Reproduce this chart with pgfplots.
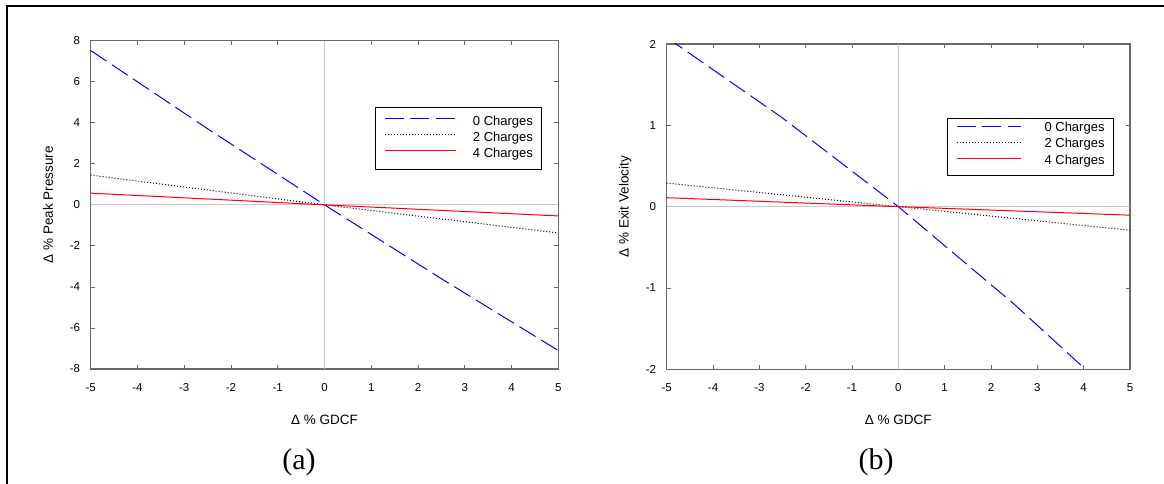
\documentclass[border=0pt]{standalone}
\usepackage{fontspec}
\setmainfont{Liberation Sans}
\newfontfamily\capfont{Liberation Serif}
\usepackage{pgfplots}
\pgfplotsset{compat=1.18}
\definecolor{axgray}{RGB}{105,105,105}
\definecolor{zerogray}{RGB}{200,200,200}
\definecolor{blueline}{RGB}{0,0,255}
\definecolor{redline}{RGB}{255,0,0}

\pgfplotsset{
  gdcf/.style={
    scale only axis,
    anchor=south west,
    xmin=-5, xmax=5,
    xtick={-5,-4,-3,-2,-1,0,1,2,3,4,5},
    axis line style={draw=axgray, line width=1.3pt},
    tick style={draw=axgray, line width=0.8pt},
    tick align=inside,
    major tick length=4pt,
    /pgf/number format/assume math mode=true,
    tick label style={font=\fontsize{11.5}{13}\selectfont, inner sep=0pt},
    xticklabel style={anchor=north, yshift=-14pt},
    yticklabel style={anchor=east, xshift=-10.5pt},
    label style={font=\fontsize{13.5}{15}\selectfont},
    xlabel={Δ \% GDCF},
    extra x ticks={0}, extra y ticks={0},
    extra x tick labels={}, extra y tick labels={},
    extra tick style={grid=major, major tick length=0pt,
      major grid style={draw=zerogray, line width=1pt}},
    legend cell align=left,
    legend style={draw=black, line width=1pt,
      font=\fontsize{13}{15}\selectfont,
      inner xsep=9pt},
  },
  nocharge/.style={draw=blueline, line width=1pt, dash pattern=on 19pt off 6.5pt},
  twocharge/.style={draw=black, line width=1pt, dash pattern=on 1pt off 2pt},
  fourcharge/.style={draw=redline, line width=1pt},
}

\begin{document}
\begin{tikzpicture}[x=1pt,y=1pt]
\useasboundingbox (0,0) rectangle (1164,484);
\draw[line width=2pt, black] (6.7,0) -- (6.7,478.3) -- (1164,478.3);

% (a) peak pressure
\begin{axis}[gdcf,
  at={(90.7pt,115pt)}, width=467.6pt, height=328.3pt,
  ymin=-8, ymax=8, ytick={-8,-6,-4,-2,0,2,4,6,8},
  ylabel={Δ \% Peak Pressure},
  xlabel style={at={(axis description cs:0.5,-0.1553)}, anchor=center},
  ylabel style={at={(axis description cs:-0.0913,0.5)}, anchor=center},
  legend style={at={(rel axis cs:0.966,0.799)}, anchor=north east,
    inner ysep=8.9pt, row sep=3.6pt,
    nodes={inner sep=0pt, text height=9.5pt, text depth=3.1pt}},
  legend image code/.code={\draw[#1] (0pt,4.2pt) -- (71pt,4.2pt);
    \path[draw=none,fill=none] (0pt,4.2pt) rectangle (88pt,4.2pt);},
]
\addplot[nocharge] coordinates {(-5,7.52) (-2.5,3.71) (0,0) (2.5,-3.60) (5,-7.10)};
\addplot[twocharge] coordinates {(-5,1.45) (0,0) (5,-1.37)};
\addplot[fourcharge] coordinates {(-5,0.57) (0,0) (5,-0.54)};
\legend{\rule{0pt}{13pt}0 Charges, 2 Charges, 4 Charges}
\end{axis}

% (b) exit velocity
\begin{axis}[gdcf,
  at={(666.7pt,114.7pt)}, width=463.3pt, height=325.3pt,
  ymin=-2, ymax=2, ytick={-2,-1,0,1,2},
  ylabel={Δ \% Exit Velocity},
  xlabel style={at={(axis description cs:0.5,-0.1568)}, anchor=center},
  ylabel style={at={(axis description cs:-0.090,0.5)}, anchor=center},
  legend style={at={(rel axis cs:0.9655,0.772)}, anchor=north east,
    inner ysep=6pt, row sep=3.6pt,
    nodes={inner sep=0pt, text height=7pt, text depth=5.6pt}},
  legend image code/.code={\draw[#1] (0pt,4.5pt) -- (64pt,4.5pt);
    \path[draw=none,fill=none] (0pt,4.5pt) rectangle (88pt,4.5pt);},
]
\addplot[nocharge] coordinates {(-5,2.08) (-2.5,1.09) (0,0) (2.5,-1.20) (5,-2.50)};
\addplot[twocharge] coordinates {(-5,0.29) (0,0) (5,-0.29)};
\addplot[fourcharge] coordinates {(-5,0.11) (0,0) (5,-0.105)};
\legend{0 Charges, 2 Charges, 4 Charges}
\end{axis}

\node[font=\capfont\fontsize{30}{32}\selectfont, anchor=base] at (299,14) {(a)};
\node[font=\capfont\fontsize{30}{32}\selectfont, anchor=base] at (876,14) {(b)};
\end{tikzpicture}
\end{document}
